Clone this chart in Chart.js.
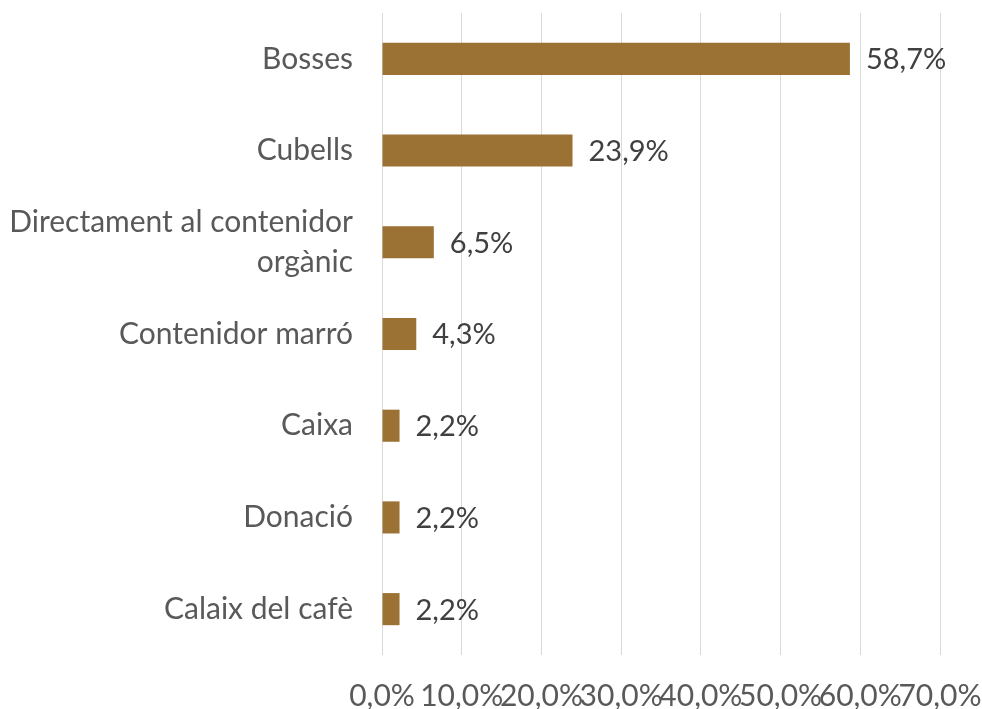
<!DOCTYPE html>
<html>
<head>
<meta charset="utf-8">
<script src="https://cdn.jsdelivr.net/npm/chart.js@4"></script>
<style>
  html, body { margin: 0; padding: 0; background: #fff; }
  #wrap { width: 982px; height: 709px; position: relative; }
</style>
</head>
<body>
<div id="wrap"><canvas id="chart"></canvas></div>
<script>
// categories, top to bottom
const categories = [
  'Bosses',
  'Cubells',
  ['Directament al contenidor', 'orgànic'],
  'Contenidor marró',
  'Caixa',
  'Donació',
  'Calaix del cafè'
];
// percentages
const values = [58.7, 23.9, 6.5, 4.3, 2.2, 2.2, 2.2];
const xTicks = [0, 10, 20, 30, 40, 50, 60, 70];

const fmt = v => v.toFixed(1).replace('.', ',') + '%';

// draws value labels to the right of each bar
const valueLabels = {
  id: 'valueLabels',
  afterDatasetsDraw(chart) {
    const ctx = chart.ctx;
    const meta = chart.getDatasetMeta(0);
    ctx.save();
    ctx.font = '29px Lato';
    ctx.fillStyle = '#404040';
    ctx.textAlign = 'left';
    ctx.textBaseline = 'middle';
    meta.data.forEach((bar, i) => {
      ctx.fillText(fmt(values[i]), bar.x + 16, bar.y + 1);
    });
    ctx.restore();
  }
};

new Chart(document.getElementById('chart'), {
  type: 'bar',
  data: {
    labels: categories,
    datasets: [{
      data: values,
      backgroundColor: '#9c7134',
      borderWidth: 0,
      barPercentage: 1,
      categoryPercentage: 0.35
    }]
  },
  options: {
    indexAxis: 'y',
    responsive: true,
    maintainAspectRatio: false,
    animation: false,
    layout: { padding: { top: 13, right: 42, bottom: 0, left: 0 } },
    plugins: { legend: { display: false }, tooltip: { enabled: false } },
    scales: {
      x: {
        min: 0,
        max: 70,
        afterBuildTicks: axis => { axis.ticks = xTicks.map(v => ({ value: v })); },
        afterFit: axis => {
          axis.height = 54;
          axis.paddingLeft = 0;
          axis.paddingRight = 0;
        },
        grid: { color: '#d9d9d9', lineWidth: 1, drawTicks: false },
        border: { display: false },
        ticks: {
          autoSkip: false,
          maxRotation: 0,
          padding: 23,
          color: '#595959',
          font: { family: 'Lato', size: 30 },
          callback: v => fmt(v)
        }
      },
      y: {
        afterFit: axis => {
          axis.width = 382;
          axis.paddingTop = 0;
          axis.paddingBottom = 0;
        },
        grid: { display: false },
        border: { display: false },
        ticks: {
          padding: 21,
          color: '#595959',
          font: { family: 'Lato', size: 30, lineHeight: 1.33 }
        }
      }
    }
  },
  plugins: [valueLabels]
});
</script>
</body>
</html>
